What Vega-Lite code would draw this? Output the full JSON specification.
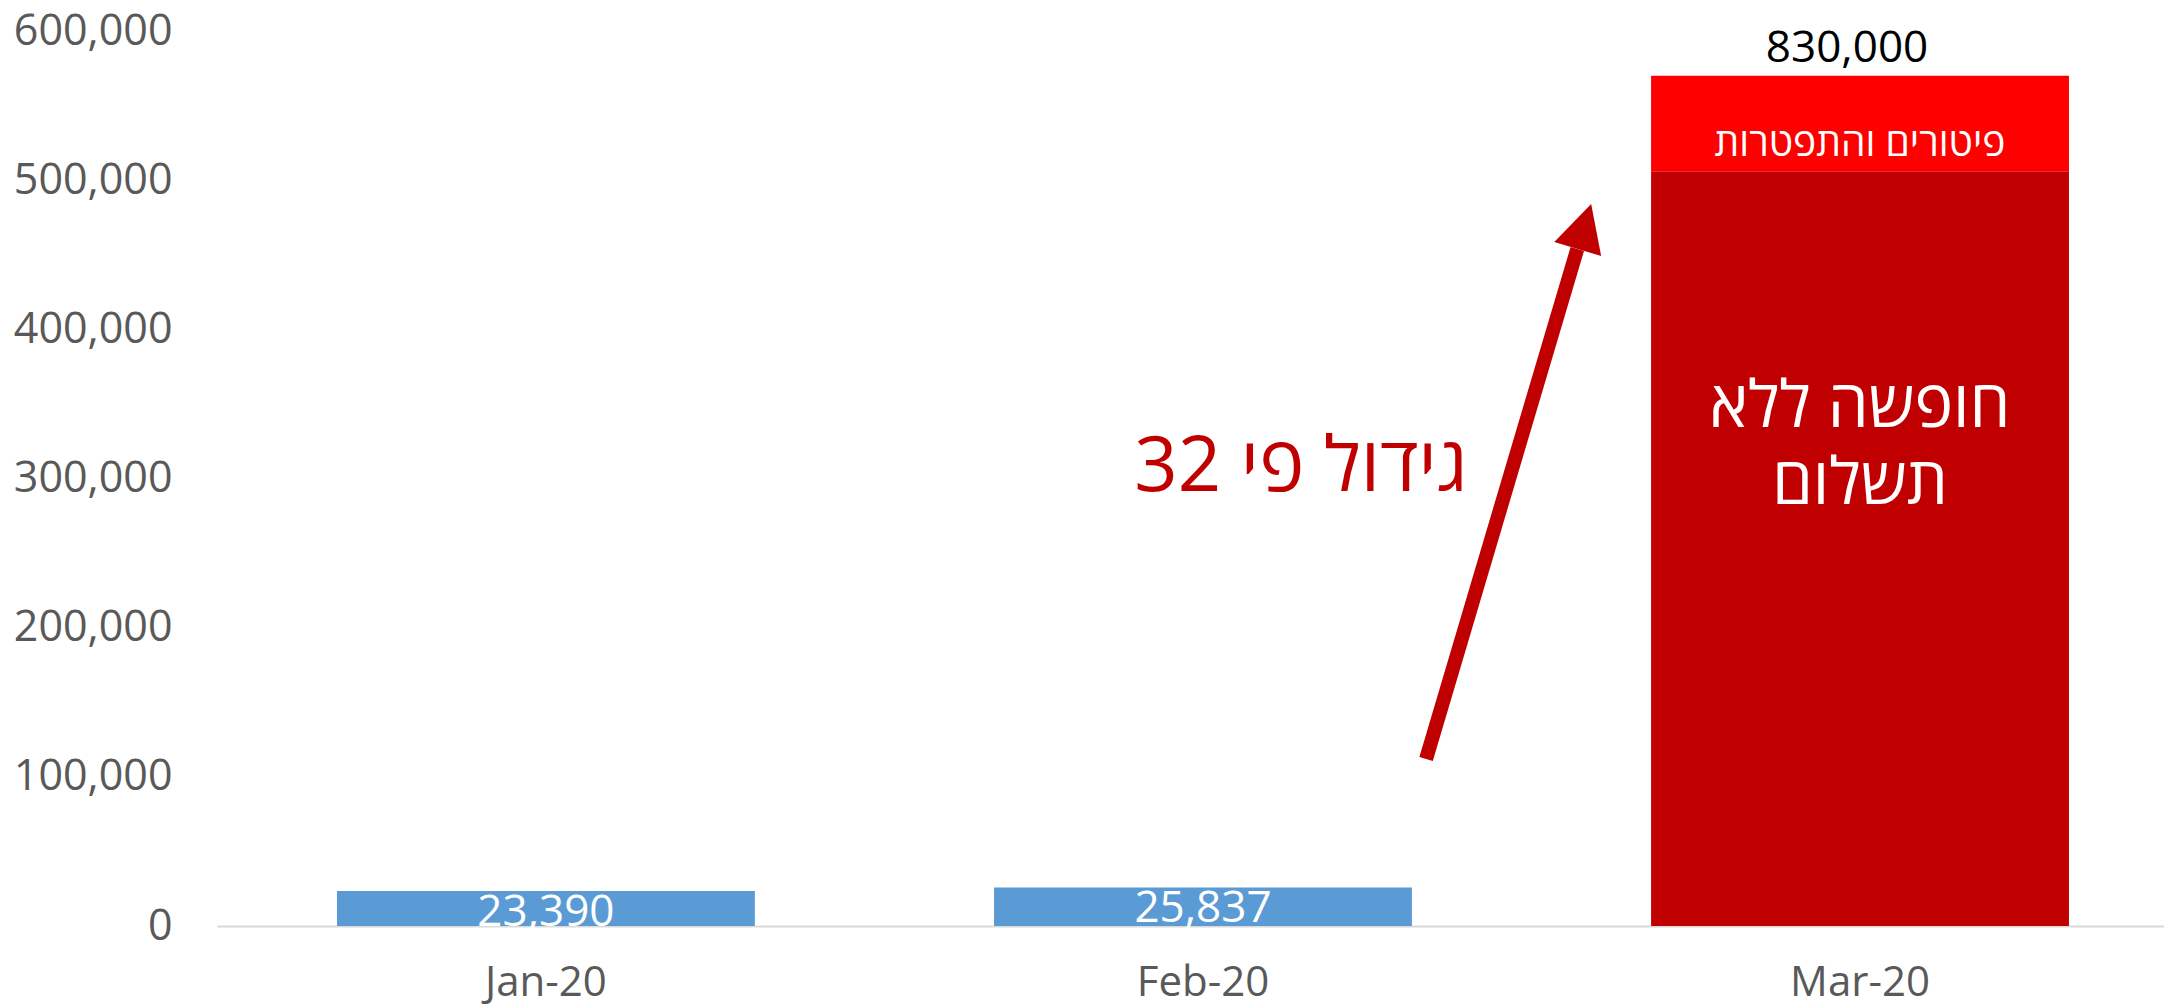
{
  "$schema": "https://vega.github.io/schema/vega-lite/v6.json",
  "width": 1947,
  "height": 895,
  "autosize": {"type": "none"},
  "padding": {"left": 217, "top": 31, "right": 0, "bottom": 81},
  "background": "white",
  "config": {"view": {"stroke": null}, "font": "Open Sans, DejaVu Sans, sans-serif"},
  "datasets": {
    "bars": [
      {"month": "Jan-20", "series": "job seekers", "value": 23390, "total": 23390},
      {"month": "Feb-20", "series": "job seekers", "value": 25837, "total": 25837},
      {"month": "Mar-20", "series": "unpaid leave", "value": 506000, "total": 830000, "label": ["חופשה ללא", "תשלום"]},
      {"month": "Mar-20", "series": "dismissals and resignations", "value": 64000, "total": 830000, "label": "פיטורים והתפטרות"}
    ],
    "notes": [
      {"x": 1.670, "y": 291300, "text": "גידול פי 32"}
    ],
    "arrow": [
      {"x": 1.863, "y": 112000, "x2": 2.096, "y2": 453900}
    ],
    "head": [
      {"x": 2.107, "y": 469000}
    ]
  },
  "layer": [
    {
      "data": {"name": "bars"},
      "transform": [
        {"stack": "value", "groupby": ["month"], "sort": [{"field": "value", "order": "descending"}], "as": ["y0", "y1"]}
      ],
      "encoding": {
        "x": {
          "field": "month",
          "type": "nominal",
          "sort": ["Jan-20", "Feb-20", "Mar-20"],
          "scale": {"paddingInner": 0.364, "paddingOuter": 0.1636, "align": 0.558},
          "axis": {
            "title": null,
            "labelAngle": 0,
            "ticks": false,
            "tickSize": 0,
            "domainColor": "#D9D9D9",
            "domainWidth": 2,
            "labelFont": "Open Sans",
            "labelFontSize": 42,
            "labelColor": "#595959",
            "labelBaseline": "alphabetic",
            "labelPadding": 69
          }
        },
        "y": {
          "field": "y1",
          "type": "quantitative",
          "scale": {"domain": [0, 600000], "nice": false},
          "axis": {
            "title": null,
            "tickCount": 6,
            "labelExpr": "format(datum.value, ',')",
            "grid": false,
            "domain": false,
            "ticks": false,
            "tickSize": 0,
            "labelFont": "Open Sans",
            "labelFontSize": 43,
            "labelColor": "#595959",
            "labelPadding": 45
          }
        }
      },
      "layer": [
        {
          "mark": {"type": "bar"},
          "encoding": {
            "y2": {"field": "y0"},
            "color": {
              "field": "series",
              "type": "nominal",
              "scale": {"domain": ["job seekers", "unpaid leave", "dismissals and resignations"], "range": ["#5B9BD5", "#C00000", "#FF0000"]},
              "legend": null
            }
          }
        },
        {
          "transform": [{"filter": "datum.series === 'job seekers'"}],
          "mark": {"type": "text", "color": "white", "fontSize": 44, "baseline": "alphabetic", "dy": 35},
          "encoding": {"text": {"field": "value", "type": "quantitative", "format": ","}}
        },
        {
          "transform": [{"filter": "datum.series === 'unpaid leave'"}],
          "mark": {"type": "text", "color": "white", "fontSize": 65, "lineHeight": 77, "baseline": "alphabetic", "dy": 256},
          "encoding": {"text": {"field": "label", "type": "nominal"}}
        },
        {
          "transform": [{"filter": "datum.series === 'dismissals and resignations'"}],
          "mark": {"type": "text", "color": "white", "fontSize": 39, "baseline": "alphabetic", "dy": 80},
          "encoding": {"text": {"field": "label", "type": "nominal"}}
        },
        {
          "transform": [{"filter": "datum.series === 'dismissals and resignations'"}],
          "mark": {"type": "text", "color": "black", "fontSize": 44, "baseline": "alphabetic", "dy": -14, "dx": -13},
          "encoding": {"text": {"field": "total", "type": "quantitative", "format": ","}}
        }
      ]
    },
    {
      "data": {"name": "notes"},
      "mark": {"type": "text", "color": "#C00000", "fontSize": 76, "baseline": "alphabetic", "align": "center"},
      "encoding": {
        "x": {"field": "x", "type": "quantitative", "scale": {"domain": [0, 3], "nice": false, "zero": false}, "axis": null},
        "y": {"field": "y", "type": "quantitative", "axis": null},
        "text": {"field": "text", "type": "nominal"}
      }
    },
    {
      "data": {"name": "arrow"},
      "mark": {"type": "rule", "color": "#C00000", "strokeWidth": 14},
      "encoding": {
        "x": {"field": "x", "type": "quantitative", "scale": {"domain": [0, 3], "nice": false, "zero": false}, "axis": null},
        "y": {"field": "y", "type": "quantitative", "axis": null},
        "x2": {"field": "x2"},
        "y2": {"field": "y2"}
      }
    },
    {
      "data": {"name": "head"},
      "mark": {"type": "point", "shape": "M0,-1L1.04,1L-1.04,1Z", "size": 2209, "angle": 16.6, "filled": true, "color": "#C00000", "opacity": 1, "strokeWidth": 0},
      "encoding": {
        "x": {"field": "x", "type": "quantitative", "scale": {"domain": [0, 3], "nice": false, "zero": false}, "axis": null},
        "y": {"field": "y", "type": "quantitative", "axis": null}
      }
    }
  ],
  "resolve": {"scale": {"x": "independent"}, "axis": {"y": "independent"}}
}
